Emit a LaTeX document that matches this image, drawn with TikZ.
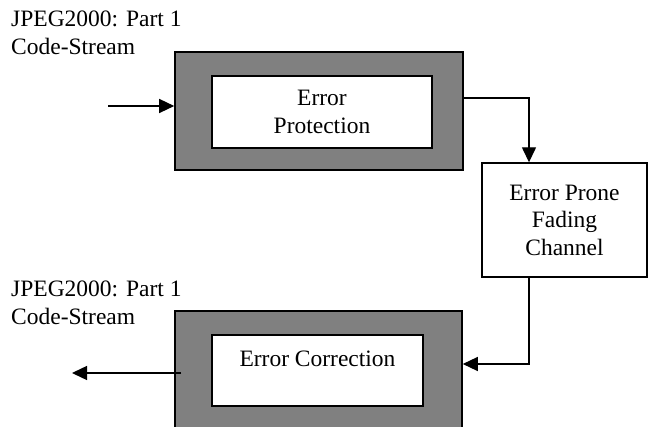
\documentclass[tikz,border=0pt]{standalone}
\usepackage{fontspec}
\setmainfont{Liberation Serif}
\usetikzlibrary{arrows.meta}
\definecolor{boxgray}{RGB}{128,128,128}
\begin{document}
\begin{tikzpicture}[x=1pt,y=-1pt,
  every node/.style={font=\fontsize{23.5}{27.5}\selectfont, inner sep=0pt},
  outerbox/.style={draw=black, fill=boxgray, line width=1.6pt, rectangle},
  innerbox/.style={draw=black, fill=white, line width=1.6pt, rectangle, align=center},
  chanbox/.style={draw=black, fill=white, line width=1.4pt, rectangle, align=center},
  conn/.style={line width=1.4pt, -{Triangle[length=15pt,width=14pt]}},
  lbl/.style={align=left, anchor=north west}]
\useasboundingbox (0,0) rectangle (648,427);
\fill[white] (0,0) rectangle (648,427);
% top stage
\node[outerbox, minimum width=288pt, minimum height=118pt] (gray1) at (319,111) {};
\node[innerbox, minimum width=220pt, minimum height=72pt] (inner1) at (322,112) {Error\\Protection};
% channel
\node[chanbox, minimum width=165pt, minimum height=114pt] (chan) at (564.5,220) {Error Prone\\Fading\\Channel};
% bottom stage
\node[outerbox, minimum width=287pt, minimum height=135pt] (gray2) at (318.5,378.5) {};
\node[innerbox, minimum width=211pt, minimum height=71pt, text height=16pt, text depth=23pt] (inner2) at (317.5,370.5) {Error Correction};
% labels
\node[lbl] (lbltop) at (11,11) {JPEG2000: Part 1\\Code-Stream};
\node[lbl] (lblbot) at (11,281) {JPEG2000: Part 1\\Code-Stream};
% connectors
\coordinate (in1) at (108,106);
\coordinate (c1) at (529,98);
\coordinate (c2) at (529,364);
\coordinate (out) at (72,373);
\draw[conn] (in1) -- (in1 -| gray1.west);
\draw[conn] (gray1.east |- c1) -- (c1) -- (c1 |- chan.north);
\draw[conn] (c2 |- chan.south) -- (c2) -- (c2 -| gray2.east);
\draw[conn] ([xshift=7pt]gray2.west |- out) -- (out);
\end{tikzpicture}
\end{document}
